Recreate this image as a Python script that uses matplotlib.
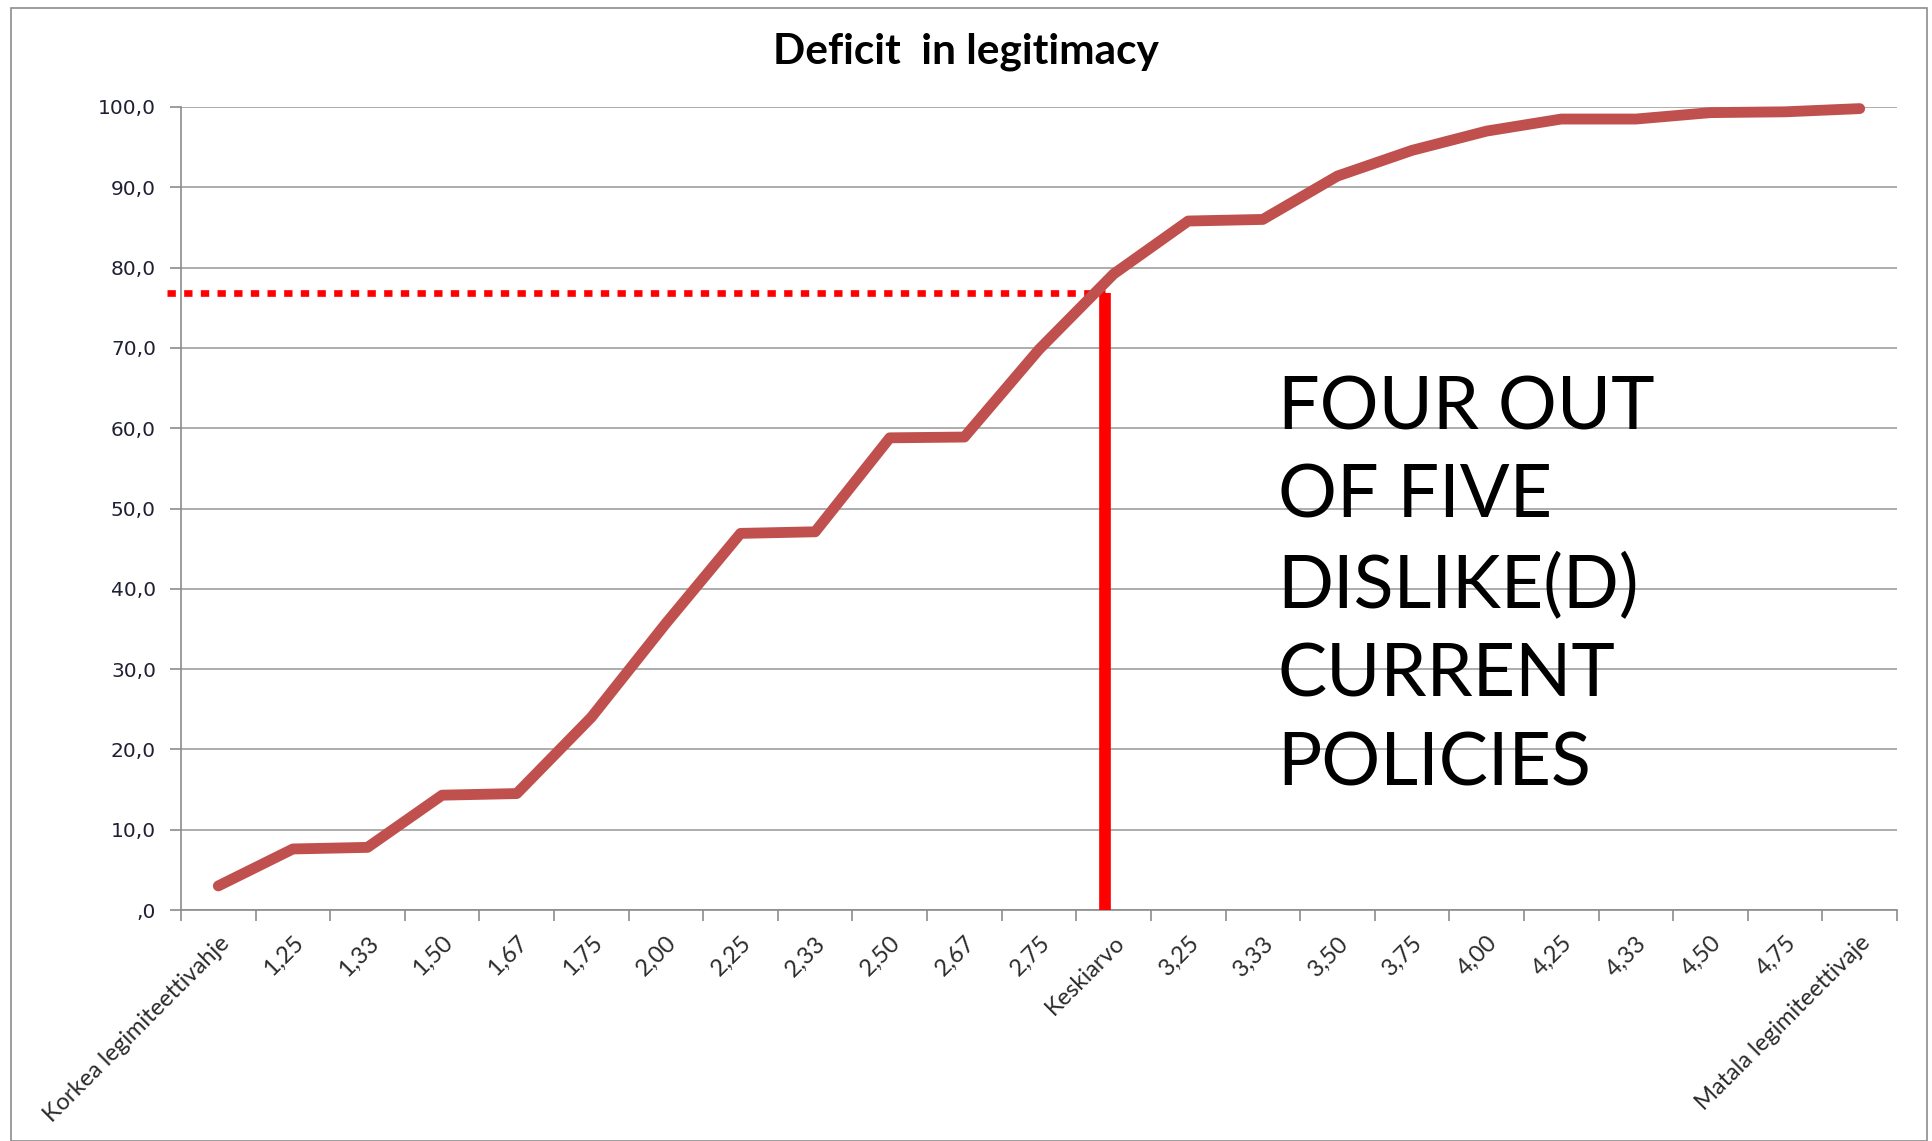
import numpy as np
import matplotlib.pyplot as plt
from matplotlib.patches import Rectangle

categories = ['Korkea legimiteettivahje', '1,25', '1,33', '1,50', '1,67', '1,75', '2,00',
              '2,25', '2,33', '2,50', '2,67', '2,75', 'Keskiarvo', '3,25', '3,33', '3,50',
              '3,75', '4,00', '4,25', '4,33', '4,50', '4,75', 'Matala legimiteettivaje']
cumulative = [3.0, 7.6, 7.8, 14.3, 14.5, 24.0, 35.7, 46.9, 47.1, 58.8, 58.9, 69.8, 79.2,
              85.8, 86.0, 91.4, 94.6, 97.0, 98.5, 98.5, 99.3, 99.4, 99.8]
yticks = [0, 10, 20, 30, 40, 50, 60, 70, 80, 90, 100]
ytick_labels = [',0', '10,0', '20,0', '30,0', '40,0', '50,0', '60,0', '70,0', '80,0', '90,0', '100,0']

# marker lines: mean position and share at that point
ref_x = 11.88
ref_y = 76.8
ref_x_start = -0.69

note = 'FOUR OUT\nOF FIVE\nDISLIKE(D)\nCURRENT\nPOLICIES'

W, H = 1932, 1141
fig = plt.figure(figsize=(W / 100, H / 100), dpi=100)
fig.patch.set_facecolor('white')

# chart frame
fig.patches.append(Rectangle((11 / W, 0.5 / H), 1916 / W, (H - 8) / H,
                             transform=fig.transFigure, fill=False,
                             edgecolor='#8c8c8c', linewidth=1.2))

ax = fig.add_axes([181 / W, 231 / H, 1716 / W, 803 / H])
x = np.arange(len(categories))

ax.set_xlim(-0.5, len(categories) - 0.5)
ax.set_ylim(0, 100)
ax.set_yticks(yticks)
ax.set_yticklabels(ytick_labels, fontsize=14.5, color='#202035')
ax.grid(axis='y', color='#a0a0a0', linewidth=1.2)
ax.set_axisbelow(True)

# ticks between categories, labels at category centres
ax.set_xticks(np.arange(len(categories) + 1) - 0.5)
ax.set_xticklabels([])
ax.set_xticks(x, minor=True)
ax.set_xticklabels(categories, minor=True, rotation=45, ha='right', va='top',
                   rotation_mode='anchor', fontsize=17, family='Lato', color='#2b2b2b')
ax.tick_params(axis='x', which='minor', length=0, pad=16)
ax.tick_params(axis='x', which='major', length=8, color='#8c8c8c', width=1.2)
ax.tick_params(axis='y', length=8, color='#8c8c8c', width=1.2, pad=10)

for side in ['top', 'right']:
    ax.spines[side].set_visible(False)
for side in ['left', 'bottom']:
    ax.spines[side].set_color('#8c8c8c')
    ax.spines[side].set_linewidth(1.2)

ax.plot([ref_x_start, ref_x], [ref_y, ref_y], color='#ff0000', linewidth=4.8,
        linestyle=(0, (1.25, 1.25)), dash_capstyle='butt', clip_on=False, zorder=3)
ax.plot([ref_x, ref_x], [0, ref_y], color='#ff0000', linewidth=8.4,
        solid_capstyle='butt', clip_on=False, zorder=3)

ax.plot(x, cumulative, color='#c0504d', linewidth=7.8, solid_capstyle='round',
        solid_joinstyle='round', zorder=4, clip_on=False)

ax.text(14.2, 66.6, note, fontsize=53, family='Lato', color='black',
        ha='left', va='top', linespacing=1.40)

fig.text(0.5, 1 - 52 / H, 'Deficit  in legitimacy', ha='center', va='center',
         fontsize=30.5, fontweight='bold', family='Lato', color='black')

fig.savefig('out.png', dpi=100, facecolor='white')
